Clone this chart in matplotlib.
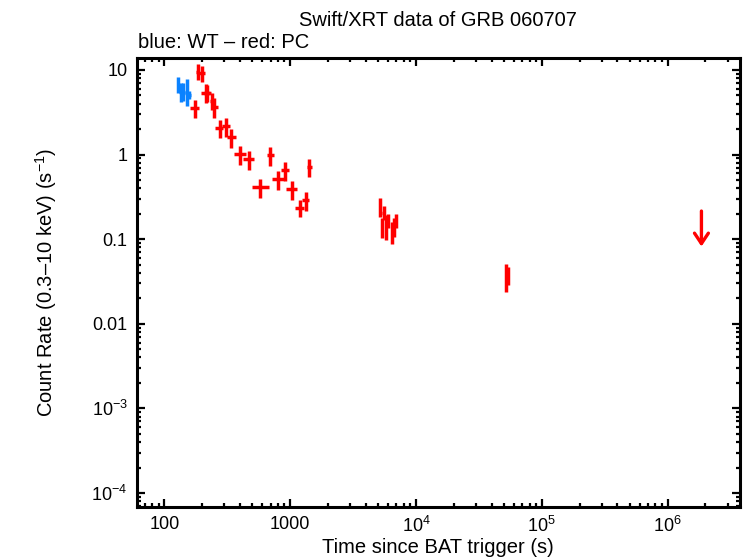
import matplotlib
matplotlib.use("Agg")
import matplotlib.pyplot as plt
from matplotlib.ticker import FixedLocator, FixedFormatter, LogLocator, NullFormatter
import numpy as np

plt.rcParams['font.family'] = ['Liberation Sans', 'DejaVu Sans']
plt.rcParams['mathtext.fontset'] = 'custom'
plt.rcParams['mathtext.rm'] = 'Liberation Sans'
plt.rcParams['mathtext.it'] = 'Liberation Sans'

# WT mode (blue)
wt_t = [129.2, 135.0, 141.6, 150.7, 158.0]
wt_t_lo = [125.5, 131.5, 138.0, 146.5, 154.0]
wt_t_hi = [133.0, 138.5, 145.5, 155.0, 162.0]
wt_rate = [6.65, 5.47, 5.5, 5.39, 5.06]
wt_rate_lo = [5.3, 4.22, 4.33, 3.75, 4.54]
wt_rate_hi = [8.33, 7.08, 6.96, 7.76, 5.65]

# PC mode (red)
pc_t = [176.5, 185.0, 199.5, 216.0, 220.0, 240.0, 250.0, 275.0, 311.0, 341.0,
        402.0, 474.0, 574.0, 688.0, 797.0, 906.0, 1029.0, 1207.0, 1326.0, 1409.0,
        5183.0, 5378.0, 5526.0, 5786.0, 6000.0, 6421.0, 6722.0, 6982.0,
        51760.0, 53700.0]
pc_t_lo = [161.0, 179.0, 190.0, 197.0, 205.0, 232.0, 240.0, 255.0, 289.0, 315.0,
           360.0, 425.0, 499.0, 649.0, 718.0, 847.0, 935.0, 1100.0, 1245.0, 1350.0,
           5080.0, 5270.0, 5420.0, 5670.0, 5880.0, 6290.0, 6590.0, 6840.0,
           50700.0, 52600.0]
pc_t_hi = [190.0, 190.0, 209.0, 232.0, 235.0, 250.0, 267.0, 295.0, 335.0, 374.0,
           449.0, 520.0, 685.0, 750.0, 889.0, 985.0, 1137.0, 1300.0, 1425.0, 1496.0,
           5290.0, 5490.0, 5640.0, 5900.0, 6120.0, 6550.0, 6860.0, 7120.0,
           52800.0, 54800.0]
pc_rate = [3.56, 9.47, 9.2, 5.39, 5.3, 4.3, 3.68, 2.08, 2.18, 1.61,
           1.01, 0.88, 0.41, 0.989, 0.515, 0.652, 0.389, 0.232, 0.29, 0.708,
           0.24, 0.137, 0.204, 0.137, 0.156, 0.119, 0.138, 0.156,
           0.035, 0.0366]
pc_rate_lo = [2.71, 7.62, 7.21, 4.07, 4.2, 3.37, 2.73, 1.58, 1.63, 1.21,
              0.753, 0.658, 0.31, 0.733, 0.382, 0.488, 0.29, 0.183, 0.217, 0.548,
              0.1845, 0.104, 0.168, 0.098, 0.136, 0.087, 0.107, 0.136,
              0.024, 0.0286]
pc_rate_hi = [4.42, 11.8, 11.1, 6.83, 6.6, 5.35, 4.71, 2.56, 2.71, 2.01,
              1.26, 1.10, 0.515, 1.22, 0.64, 0.818, 0.488, 0.29, 0.364, 0.88,
              0.307, 0.178, 0.25, 0.194, 0.2, 0.16, 0.178, 0.2,
              0.0509, 0.047]

# PC upper limit
ul_t = [1.86e6]
ul_rate = [0.215]

xticks = [100, 1000, 1e4, 1e5, 1e6]
xticklabels = ['100', '1000', r'$10^4$', r'$10^5$', r'$10^6$']
yticks = [1e-4, 1e-3, 0.01, 0.1, 1, 10]
yticklabels = [r'$10^{-4}$', r'$10^{-3}$', '0.01', '0.1', '1', '10']

fig = plt.figure(figsize=(7.46, 5.58), dpi=100)
ax = fig.add_axes([0.1841, 0.0920, 0.8079, 0.8041])
ax.set_xscale('log')
ax.set_yscale('log')

red = '#ff0000'
blue = '#0a82ff'

def draw(t, tlo, thi, r, rlo, rhi, color):
    t = np.array(t); r = np.array(r)
    xerr = [t - np.array(tlo), np.array(thi) - t]
    yerr = [r - np.array(rlo), np.array(rhi) - r]
    ax.errorbar(t, r, xerr=xerr, yerr=yerr, fmt='none', ecolor=color,
                elinewidth=2.5, capsize=0)

draw(pc_t, pc_t_lo, pc_t_hi, pc_rate, pc_rate_lo, pc_rate_hi, red)
draw(wt_t, wt_t_lo, wt_t_hi, wt_rate, wt_rate_lo, wt_rate_hi, blue)

for t, r in zip(ul_t, ul_rate):
    ax.annotate('', xy=(t, r / 2.63), xytext=(t, r),
                arrowprops=dict(arrowstyle='->,head_length=0.75,head_width=0.5',
                                color=red, lw=2.4, shrinkA=0, shrinkB=0))

ax.set_xlim(61.0, 3.77e6)
ax.set_ylim(6.89e-5, 13.86)

ax.xaxis.set_major_locator(FixedLocator(xticks))
ax.xaxis.set_major_formatter(FixedFormatter(xticklabels))
ax.yaxis.set_major_locator(FixedLocator(yticks))
ax.yaxis.set_major_formatter(FixedFormatter(yticklabels))
ax.xaxis.set_minor_locator(LogLocator(base=10, subs=np.arange(2, 10), numticks=20))
ax.yaxis.set_minor_locator(LogLocator(base=10, subs=np.arange(2, 10), numticks=20))
ax.xaxis.set_minor_formatter(NullFormatter())
ax.yaxis.set_minor_formatter(NullFormatter())

ax.tick_params(which='both', direction='in', top=True, right=True, width=1.6,
               labelsize=13, colors='black')
ax.tick_params(which='major', length=5.5, pad=7)
ax.tick_params(which='minor', length=2.8)
for s in ax.spines.values():
    s.set_linewidth(2.2)

fig.text(0.5875, 0.964, 'Swift/XRT data of GRB 060707', ha='center', va='center', fontsize=14.5)
fig.text(0.185, 0.923, 'blue: WT \u2013 red: PC', ha='left', va='center', fontsize=14.5)
fig.text(0.5875, 0.018, 'Time since BAT trigger (s)', ha='center', va='center', fontsize=14.5)
fig.text(0.062, 0.494, 'Count Rate (0.3\u201310 keV) (s$^{-1}$)', ha='center', va='center',
         rotation=90, fontsize=14.5)

fig.savefig('out.png', dpi=100)
